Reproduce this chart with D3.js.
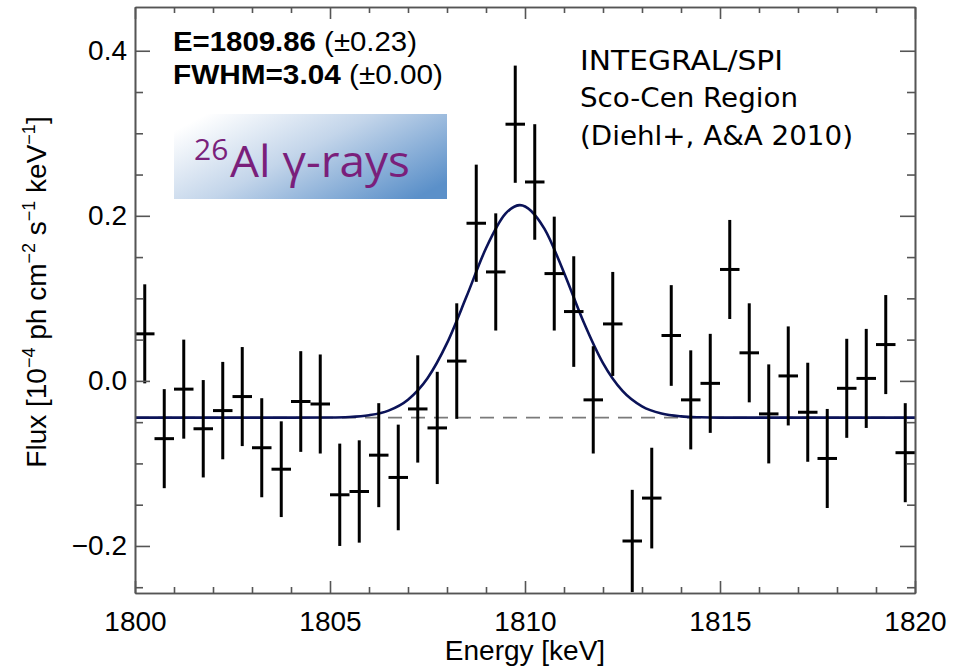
<!DOCTYPE html>
<html>
<head>
<meta charset="utf-8">
<script src="https://cdn.jsdelivr.net/npm/d3@7"></script>
<style>
  body { margin: 0; background: #fff; }
  svg { display: block; }
  .tick text { font-family: "Liberation Sans", Arial, sans-serif; font-size: 28px; fill: #000; }
  .axis path, .axis line { stroke: #555; stroke-width: 1.6px; }
</style>
</head>
<body>
<svg width="966" height="669"></svg>
<script>
let svg = d3.select("svg")
let margin = {top: 7, right: 51, bottom: 76, left: 135}
let width = svg.attr("width") - margin.left - margin.right
let height = svg.attr("height") - margin.top - margin.bottom

// spectrum bins (keV), flux and 1-sigma errors
const energy = [1800.25, 1800.75, 1801.25, 1801.75, 1802.25, 1802.75, 1803.25, 1803.75, 1804.25, 1804.75,
  1805.25, 1805.75, 1806.25, 1806.75, 1807.25, 1807.75, 1808.25, 1808.75, 1809.25, 1809.75,
  1810.25, 1810.75, 1811.25, 1811.75, 1812.25, 1812.75, 1813.25, 1813.75, 1814.25, 1814.75,
  1815.25, 1815.75, 1816.25, 1816.75, 1817.25, 1817.75, 1818.25, 1818.75, 1819.25, 1819.75]
const flux = [0.057, -0.070, -0.010, -0.058, -0.036, -0.019, -0.081, -0.107, -0.025, -0.028,
  -0.138, -0.134, -0.090, -0.117, -0.034, -0.057, 0.024, 0.191, 0.132, 0.311,
  0.241, 0.130, 0.084, -0.023, 0.069, -0.194, -0.142, 0.055, -0.023, -0.003,
  0.135, 0.034, -0.040, 0.006, -0.038, -0.094, -0.009, 0.003, 0.044, -0.087]
const fluxErr = [0.060, 0.060, 0.060, 0.059, 0.059, 0.060, 0.060, 0.058, 0.061, 0.060,
  0.062, 0.062, 0.063, 0.064, 0.065, 0.068, 0.070, 0.071, 0.071, 0.071,
  0.070, 0.069, 0.067, 0.065, 0.063, 0.062, 0.061, 0.061, 0.060, 0.060,
  0.060, 0.060, 0.060, 0.060, 0.060, 0.060, 0.060, 0.060, 0.060, 0.060]
const binHalf = 0.25

// fitted line, sampled from the figure
const fitEnergy = [1800, 1804, 1805, 1805.5, 1806, 1806.5, 1807, 1807.5, 1808, 1808.5, 1809, 1809.5,
  1809.87, 1810.5, 1811, 1811.5, 1812, 1812.5, 1813, 1813.5, 1814, 1814.5, 1815, 1820]
const fitFlux = [-0.0445, -0.0445, -0.0443, -0.0437, -0.0416, -0.0360, -0.0228, 0.0032, 0.0457, 0.1021, 0.1607, 0.2026,
  0.2130, 0.1841, 0.1310, 0.0716, 0.0215, -0.0122, -0.0309, -0.0396, -0.0430, -0.0441, -0.0445, -0.0445]
const continuum = -0.0445

const xMajor = [1800, 1805, 1810, 1815, 1820]
const xMinor = [1801, 1802, 1803, 1804, 1806, 1807, 1808, 1809, 1811, 1812, 1813, 1814, 1816, 1817, 1818, 1819]
const yMajor = [-0.2, 0.0, 0.2, 0.4]
const yMinor = [-0.25, -0.15, -0.1, -0.05, 0.05, 0.1, 0.15, 0.25, 0.3, 0.35]

let x = d3.scaleLinear().domain([1800, 1820]).range([0, width])
let y = d3.scaleLinear().domain([-0.257, 0.453]).range([height, 0])

let g = svg.append("g")
    .attr("transform", "translate(" + margin.left + "," + margin.top + ")")

g.append("clipPath").attr("id", "plotclip")
  .append("rect").attr("width", width).attr("height", height)

// annotation box with gradient
let defs = svg.append("defs")
let grad = defs.append("linearGradient").attr("id", "boxgrad")
  .attr("x1", "0").attr("y1", "0.2").attr("x2", "1").attr("y2", "0.8")
grad.append("stop").attr("offset", "0").attr("stop-color", "#ffffff")
grad.append("stop").attr("offset", "0.45").attr("stop-color", "#c3d5ea")
grad.append("stop").attr("offset", "1").attr("stop-color", "#5b90c9")

svg.append("rect")
  .attr("x", 174).attr("y", 114).attr("width", 273).attr("height", 85)
  .attr("fill", "url(#boxgrad)")

let gam = svg.append("g").attr("fill", "#7a1f7b").attr("font-family", "'Open Sans', 'Noto Sans', sans-serif")
gam.append("text").attr("x", 194).attr("y", 160).attr("font-size", 30).text("26")
gam.append("text").attr("x", 230).attr("y", 177).attr("font-size", 43)
  .attr("textLength", 180).attr("lengthAdjust", "spacingAndGlyphs")
  .text("Al \u03b3-rays")

// fit results
let fit = svg.append("g").attr("font-family", "'Liberation Sans', Arial, sans-serif").attr("font-size", 27)
let t1 = fit.append("text").attr("x", 173).attr("y", 51)
  .attr("textLength", 244).attr("lengthAdjust", "spacingAndGlyphs")
t1.append("tspan").attr("font-weight", "bold").text("E=1809.86")
t1.append("tspan").text(" (\u00b10.23)")
let t2 = fit.append("text").attr("x", 173).attr("y", 84)
  .attr("textLength", 270).attr("lengthAdjust", "spacingAndGlyphs")
t2.append("tspan").attr("font-weight", "bold").text("FWHM=3.04")
t2.append("tspan").text(" (\u00b10.00)")

// instrument label
const labelLines = ["INTEGRAL/SPI", "Sco-Cen Region", "(Diehl+, A&A 2010)"]
const labelWidths = [203, 218, 273]
svg.append("g").attr("font-family", "'DejaVu Sans', Verdana, sans-serif").attr("font-size", 26)
  .selectAll("text").data(labelLines).enter().append("text")
  .attr("x", 580)
  .attr("y", (d, i) => 70 + i * 37.3)
  .attr("textLength", (d, i) => labelWidths[i])
  .attr("lengthAdjust", "spacingAndGlyphs")
  .text(d => d)

let plot = g.append("g").attr("clip-path", "url(#plotclip)")

// continuum level
plot.append("line")
  .attr("x1", x(1800)).attr("x2", x(1820))
  .attr("y1", y(continuum)).attr("y2", y(continuum))
  .attr("stroke", "#7a7a7a").attr("stroke-width", 1.6)
  .attr("stroke-dasharray", "14,9")

// gaussian line
let line = d3.line()
  .x(d => x(d[0]))
  .y(d => y(d[1]))
  .curve(d3.curveMonotoneX)
plot.append("path")
  .datum(fitEnergy.map((e, i) => [e, fitFlux[i]]))
  .attr("d", line)
  .attr("fill", "none")
  .attr("stroke", "#0b1358")
  .attr("stroke-width", 2.6)

// error bars
let pts = energy.map((e, i) => ({e: e, v: flux[i], err: fluxErr[i]}))
let bars = plot.selectAll(".bar").data(pts).enter().append("g").attr("class", "bar")
  .attr("stroke", "#000").attr("stroke-width", 3)
bars.append("line")
  .attr("x1", d => x(d.e)).attr("x2", d => x(d.e))
  .attr("y1", d => y(d.v - d.err)).attr("y2", d => y(d.v + d.err))
bars.append("line")
  .attr("x1", d => x(d.e - binHalf)).attr("x2", d => x(d.e + binHalf))
  .attr("y1", d => y(d.v)).attr("y2", d => y(d.v))

// axes
g.append("g").attr("class", "axis axis--x")
  .attr("transform", "translate(0," + height + ")")
  .call(d3.axisBottom(x).tickValues(xMajor).tickFormat(d3.format("d")).tickSize(-12).tickSizeOuter(0).tickPadding(18))
g.append("g").attr("class", "axis")
  .attr("transform", "translate(0," + height + ")")
  .call(d3.axisBottom(x).tickValues(xMinor).tickFormat("").tickSize(-6).tickSizeOuter(0))
g.append("g").attr("class", "axis")
  .call(d3.axisTop(x).tickValues(xMajor).tickFormat("").tickSize(-12).tickSizeOuter(0))
g.append("g").attr("class", "axis")
  .call(d3.axisTop(x).tickValues(xMinor).tickFormat("").tickSize(-6).tickSizeOuter(0))

g.append("g").attr("class", "axis axis--y")
  .call(d3.axisLeft(y).tickValues(yMajor).tickFormat(d3.format(".1f")).tickSize(-15).tickSizeOuter(0).tickPadding(8))
g.append("g").attr("class", "axis")
  .call(d3.axisLeft(y).tickValues(yMinor).tickFormat("").tickSize(-8).tickSizeOuter(0))
g.append("g").attr("class", "axis")
  .attr("transform", "translate(" + width + ",0)")
  .call(d3.axisRight(y).tickValues(yMajor).tickFormat("").tickSize(-15).tickSizeOuter(0))
g.append("g").attr("class", "axis")
  .attr("transform", "translate(" + width + ",0)")
  .call(d3.axisRight(y).tickValues(yMinor).tickFormat("").tickSize(-8).tickSizeOuter(0))

// axis titles
g.append("text")
  .attr("x", x(1810)).attr("y", height + 67)
  .attr("text-anchor", "middle")
  .attr("font-family", "'Liberation Sans', Arial, sans-serif").attr("font-size", 28)
  .text("Energy [keV]")

let yt = svg.append("text")
  .attr("transform", "translate(46,292) rotate(-90)")
  .attr("text-anchor", "middle")
  .attr("font-family", "'Liberation Sans', Arial, sans-serif").attr("font-size", 28)
const yTitle = [["Flux [10", 0], ["\u22124", 1], [" ph cm", 0], ["\u22122", 1], [" s", 0], ["\u22121", 1], [" keV", 0], ["\u22121", 1], ["]", 0]]
yTitle.forEach((p, i) => {
  let prev = i > 0 ? yTitle[i - 1][1] : 0
  yt.append("tspan")
    .attr("dy", p[1] === 1 ? -11 : (prev === 1 ? 11 : 0))
    .attr("font-size", p[1] === 1 ? 18 : 28)
    .text(p[0])
})
</script>
</body>
</html>
